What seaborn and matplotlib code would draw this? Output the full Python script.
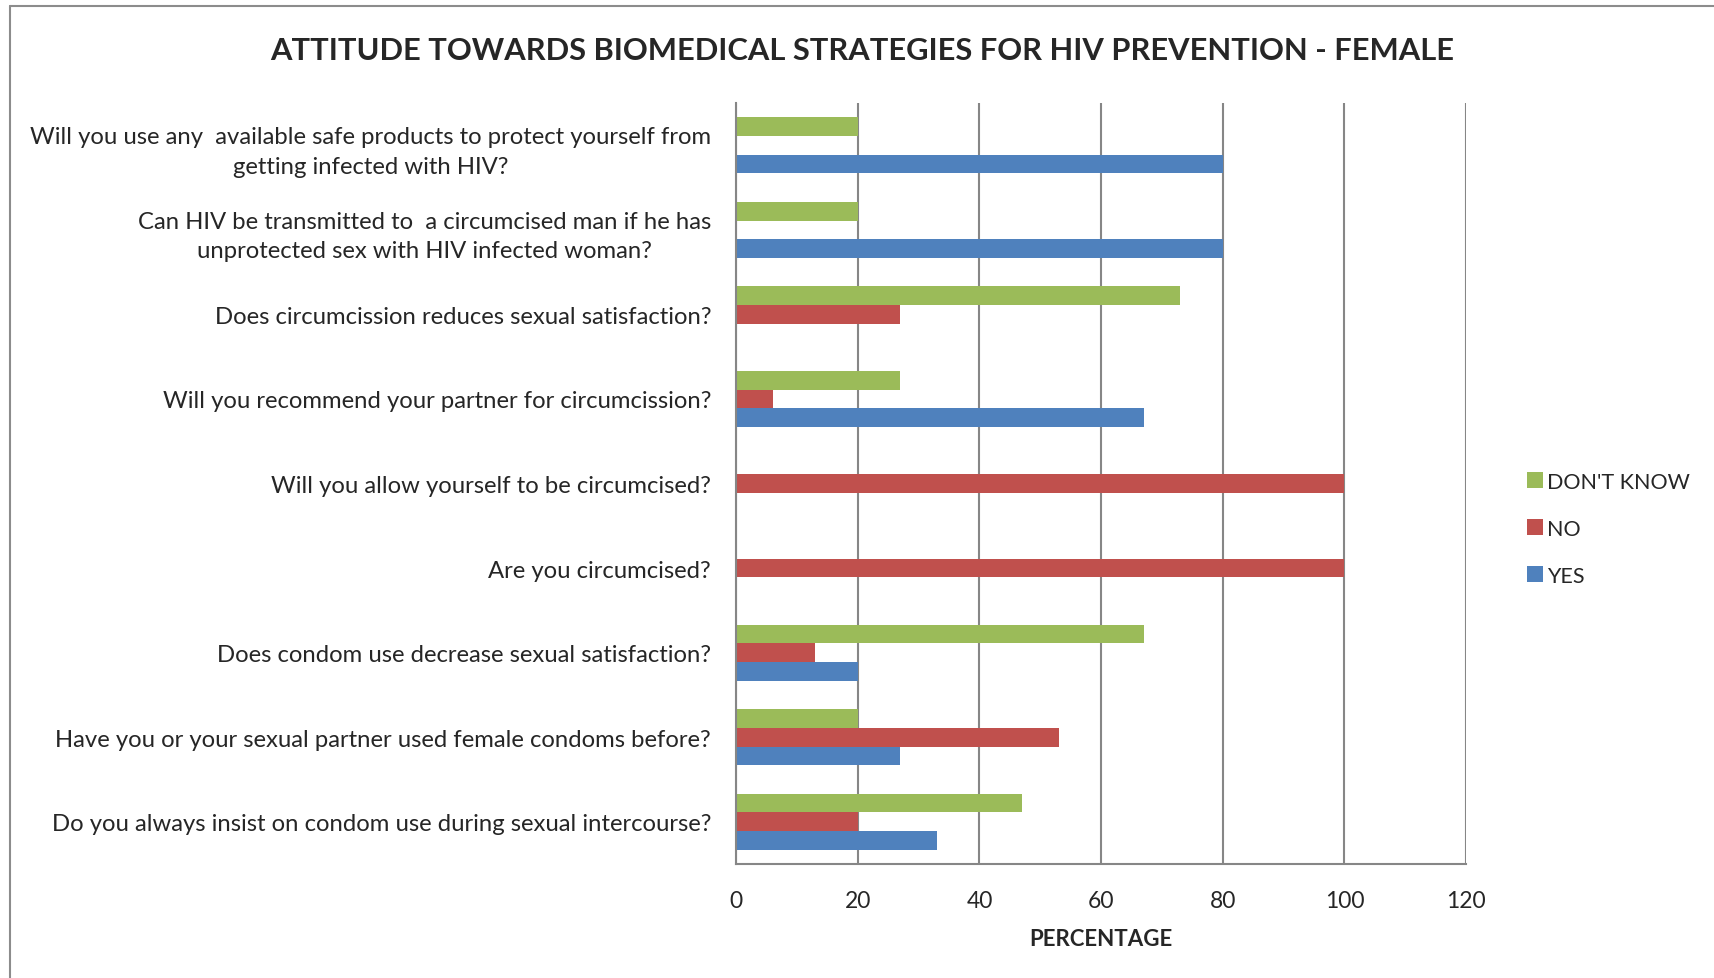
import seaborn as sns
import matplotlib.pyplot as plt
import pandas as pd

questions = [
    "Will you use any  available safe products to protect yourself from\ngetting infected with HIV?",
    "Can HIV be transmitted to  a circumcised man if he has\nunprotected sex with HIV infected woman?",
    "Does circumcission reduces sexual satisfaction?",
    "Will you recommend your partner for circumcission?",
    "Will you allow yourself to be circumcised?",
    "Are you circumcised?",
    "Does condom use decrease sexual satisfaction?",
    "Have you or your sexual partner used female condoms before?",
    "Do you always insist on condom use during sexual intercourse?",
]
dont_know = [20, 20, 73, 27, 0, 0, 67, 20, 47]
no = [0, 0, 27, 6, 100, 100, 13, 53, 20]
yes = [80, 80, 0, 67, 0, 0, 20, 27, 33]
series = ["DON'T KNOW", "NO", "YES"]
colors = ["#9BBB59", "#C0504D", "#4F81BD"]
xticks = [0, 20, 40, 60, 80, 100, 120]

rows = []
for name, vals in zip(series, [dont_know, no, yes]):
    for q, v in zip(questions, vals):
        rows.append({"question": q, "answer": name, "pct": v})
df = pd.DataFrame(rows)

sns.set_style("white")
plt.rcParams["font.family"] = ["Lato", "DejaVu Sans"]

fig = plt.figure(figsize=(17.15, 9.79), dpi=100)
ax = fig.add_axes([0.4292, 0.1164, 0.4257, 0.7774])

sns.barplot(ax=ax, data=df, x="pct", y="question", hue="answer",
            hue_order=series, palette=colors, order=questions,
            orient="h", width=0.66, edgecolor="none", saturation=1)

ax.set_xlim(0, 120)
ax.set_xticks(xticks)
ax.set_xticklabels([str(t) for t in xticks], fontsize=16.5)
ax.grid(axis="x", color="#868686", linewidth=1.5)
ax.set_axisbelow(True)
for s in ["top", "right"]:
    ax.spines[s].set_visible(False)
for s in ["left", "bottom"]:
    ax.spines[s].set_color("#868686")
    ax.spines[s].set_linewidth(1.5)
ax.tick_params(axis="y", length=0, pad=18)
ax.tick_params(axis="x", length=0, pad=19)
for lab in ax.get_yticklabels():
    lab.set_fontsize(17.2)
    lab.set_multialignment("center")
    lab.set_linespacing(1.5)
ax.set_ylabel("")
ax.set_xlabel("PERCENTAGE", fontsize=16, fontweight="bold", labelpad=12)

fig.text(0.503, 0.948, "ATTITUDE TOWARDS BIOMEDICAL STRATEGIES FOR HIV PREVENTION - FEMALE",
         ha="center", va="center", fontsize=22.2, fontweight="bold")

handles, labels = ax.get_legend_handles_labels()
ax.legend(handles, labels, loc="center left", bbox_to_anchor=(0.879, 0.459),
          bbox_transform=fig.transFigure, frameon=False, fontsize=15.5,
          handlelength=0.75, handleheight=0.75, handletextpad=0.2,
          labelspacing=1.25)

# outer frame like the exported chart
fig.add_artist(plt.Line2D([0.006, 1.0], [0.993, 0.993], color="#8c8c8c",
                          linewidth=1.5, transform=fig.transFigure))
fig.add_artist(plt.Line2D([0.006, 0.006], [0.0, 0.993], color="#8c8c8c",
                          linewidth=1.5, transform=fig.transFigure))

fig.savefig("out.png", dpi=100)
